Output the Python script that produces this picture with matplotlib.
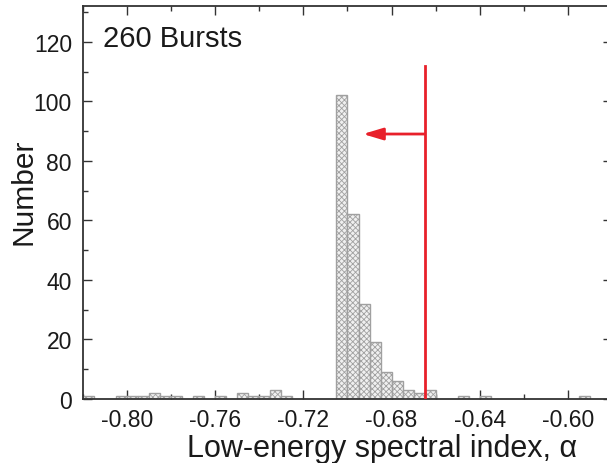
import matplotlib
matplotlib.use("Agg")
import matplotlib.pyplot as plt
from matplotlib.ticker import MultipleLocator, FormatStrFormatter

plt.rcParams['font.family'] = ['Liberation Sans', 'DejaVu Sans']
plt.rcParams['hatch.color'] = '#b0b0b0'
plt.rcParams['hatch.linewidth'] = 0.6

# Histogram data: left bin edges (width 0.005) and counts
bin_left = [-0.820, -0.805, -0.800, -0.795, -0.790, -0.785, -0.780, -0.770,
            -0.760, -0.750, -0.745, -0.740, -0.735, -0.730,
            -0.705, -0.700, -0.695, -0.690, -0.685, -0.680, -0.675, -0.670,
            -0.665, -0.650, -0.640, -0.595]
counts = [1, 1, 1, 1, 2, 1, 1, 1,
          1, 2, 1, 1, 3, 1,
          102, 62, 32, 19, 9, 6, 3, 2,
          3, 1, 1, 1]
bin_width = 0.005

cut_alpha = -0.665
line_top = 112
arrow_y = 89
arrow_tip = -0.693

xticks = [-0.80, -0.76, -0.72, -0.68, -0.64, -0.60]
yticks = [0, 20, 40, 60, 80, 100, 120]

W, H = 607, 464
fig = plt.figure(figsize=(W/100, H/100), dpi=100)
ax = fig.add_axes([83/W, (H-400)/H, (612-83)/W, (400-7)/H])

ax.bar(bin_left, counts, width=bin_width, align='edge', facecolor='#f0f0f0',
       edgecolor='#a0a0a0', linewidth=1.0, hatch='xxxxxx', zorder=2)

ax.plot([cut_alpha, cut_alpha], [0, line_top], color='#e8202a', lw=2.0, zorder=3)
ax.annotate('', xy=(arrow_tip, arrow_y), xytext=(cut_alpha, arrow_y),
            arrowprops=dict(arrowstyle='-|>,head_length=0.6,head_width=0.18',
                            color='#e8202a', lw=2.0, mutation_scale=20,
                            shrinkA=0, shrinkB=0), zorder=3)

ax.set_xlim(-0.82, -0.58)
ax.set_ylim(0, 132)
ax.set_xticks(xticks)
ax.set_yticks(yticks)
ax.xaxis.set_minor_locator(MultipleLocator(0.02))
ax.yaxis.set_minor_locator(MultipleLocator(10))
ax.xaxis.set_major_formatter(FormatStrFormatter('%.2f'))

ax.tick_params(which='both', direction='in', top=True, right=True, width=1.0,
               color='#333333')
ax.tick_params(which='major', length=6.5, labelsize=16.5, labelcolor='#1a1a1a')
ax.tick_params(axis='x', which='major', pad=6.5)
ax.tick_params(axis='y', which='major', pad=8)
ax.tick_params(which='minor', length=3.5)
for s in ax.spines.values():
    s.set_linewidth(1.3)
    s.set_color('#333333')

ax.set_xlabel('Low-energy spectral index, α', fontsize=22, color='#1a1a1a')
ax.set_ylabel('Number', fontsize=21.5, color='#1a1a1a')
ax.xaxis.label.set_va('baseline')
ax.yaxis.label.set_va('baseline')
ax.xaxis.set_label_coords((382-83)/529, (400-457)/393)
ax.yaxis.set_label_coords((32-83)/529, (400-192)/393)

ax.text(103/W, (H-47)/H, '260 Bursts', transform=fig.transFigure,
        fontsize=21, ha='left', va='baseline', color='#1a1a1a')

fig.savefig('out.png', dpi=100)
